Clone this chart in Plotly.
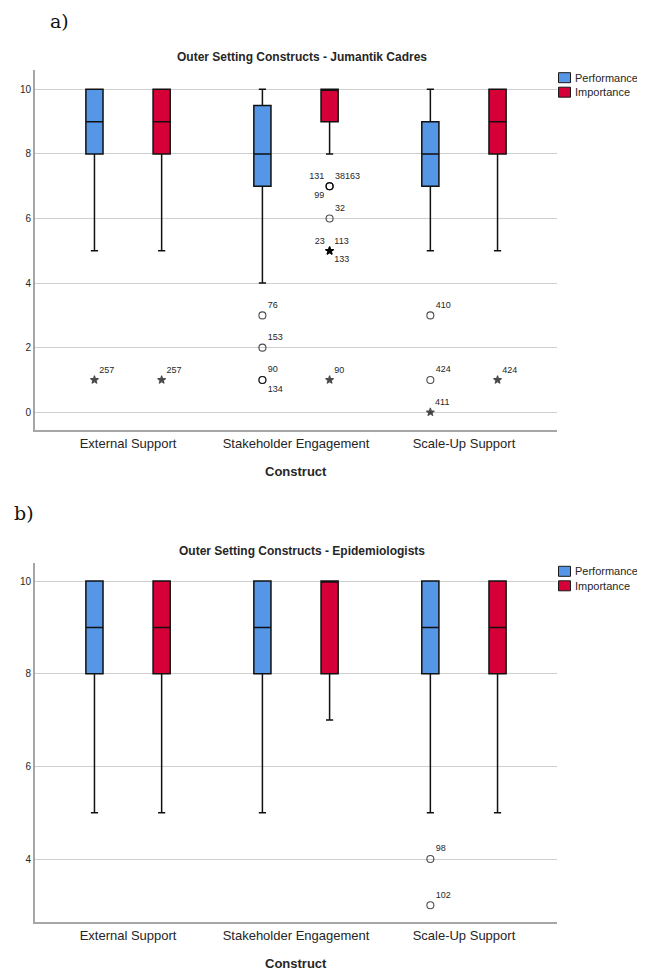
import plotly.graph_objects as go

# ---------------- data ----------------
categories = ["External Support", "Stakeholder Engagement", "Scale-Up Support"]
y_ticks_a = [0, 2, 4, 6, 8, 10]
y_ticks_b = [4, 6, 8, 10]

# a) Jumantik Cadres
a_perf_lo = [5, 4, 5]
a_perf_q1 = [8, 7, 7]
a_perf_med = [9, 8, 8]
a_perf_q3 = [10, 9.5, 9]
a_perf_hi = [10, 10, 10]

a_imp_lo = [5, 8, 5]
a_imp_q1 = [8, 9, 8]
a_imp_med = [9, 10, 9]
a_imp_q3 = [10, 10, 10]
a_imp_hi = [10, 10, 10]

# outliers: (category index, value, kind, label, label position)
a_perf_out = [
    (0, 1, "extreme", "257", "top right"),
    (1, 3, "outlier", "76", "top right"),
    (1, 2, "outlier", "153", "top right"),
    (1, 1, "outlier", "90", "top right"),
    (1, 1, "outlier", "134", "bottom right"),
    (2, 3, "outlier", "410", "top right"),
    (2, 1, "outlier", "424", "top right"),
    (2, 0, "extreme", "411", "top right"),
]
a_imp_out = [
    (0, 1, "extreme", "257", "top right"),
    (1, 7, "outlier", "131", "top left"),
    (1, 7, "outlier", "38163", "top right"),
    (1, 7, "outlier", "99", "bottom left"),
    (1, 6, "outlier", "32", "top right"),
    (1, 5, "extreme", "23", "top left"),
    (1, 5, "extreme", "113", "top right"),
    (1, 5, "extreme", "133", "bottom right"),
    (1, 1, "extreme", "90", "top right"),
    (2, 1, "extreme", "424", "top right"),
]

# b) Epidemiologists
b_perf_lo = [5, 5, 5]
b_perf_q1 = [8, 8, 8]
b_perf_med = [9, 9, 9]
b_perf_q3 = [10, 10, 10]
b_perf_hi = [10, 10, 10]

b_imp_lo = [5, 7, 5]
b_imp_q1 = [8, 8, 8]
b_imp_med = [9, 10, 9]
b_imp_q3 = [10, 10, 10]
b_imp_hi = [10, 10, 10]

b_perf_out = [
    (2, 4, "outlier", "98", "top right"),
    (2, 3, "outlier", "102", "top right"),
]
b_imp_out = []

# ---------------- style ----------------
PAGE_OFF = 8  # default body margin of the html page
W, H = 645 - PAGE_OFF, 972 - PAGE_OFF
BLUE = "#5596E6"
RED = "#D50037"
OFFSET = 0.2
BOXW = 0.102
FONT = "Liberation Sans, Arial, sans-serif"
TXT = "#262626"


def py(px):
    return 1 - (px - PAGE_OFF) / H


def px_x(px):
    return (px - PAGE_OFF) / W


fig = go.Figure()

panels = [
    dict(xa="x", ya="y", perf=(a_perf_lo, a_perf_q1, a_perf_med, a_perf_q3, a_perf_hi),
         imp=(a_imp_lo, a_imp_q1, a_imp_med, a_imp_q3, a_imp_hi),
         pout=a_perf_out, iout=a_imp_out),
    dict(xa="x2", ya="y2", perf=(b_perf_lo, b_perf_q1, b_perf_med, b_perf_q3, b_perf_hi),
         imp=(b_imp_lo, b_imp_q1, b_imp_med, b_imp_q3, b_imp_hi),
         pout=b_perf_out, iout=b_imp_out),
]

for p in panels:
    for stats, off, col, outs in ((p["perf"], -OFFSET, BLUE, p["pout"]), (p["imp"], OFFSET, RED, p["iout"])):
        lo, q1, med, q3, hi = stats
        xs = [i + off for i in range(len(categories))]
        fig.add_trace(go.Box(
            x=xs, lowerfence=lo, q1=q1, median=med, q3=q3, upperfence=hi,
            width=BOXW, whiskerwidth=0.42,
            fillcolor=col, line=dict(color="#111111", width=1.5),
            boxpoints=False, showlegend=False, hoverinfo="skip",
            xaxis=p["xa"], yaxis=p["ya"],
        ))
        if outs:
            fig.add_trace(go.Scatter(
                x=[o[0] + off for o in outs], y=[o[1] for o in outs],
                mode="markers+text",
                marker=dict(
                    symbol=["circle-open" if o[2] == "outlier" else "star" for o in outs],
                    size=[7 if o[2] == "outlier" else 6 for o in outs],
                    color="#000000", line=dict(color="#000000", width=1.1)),
                text=[o[3] for o in outs],
                textposition=[o[4] for o in outs],
                textfont=dict(family=FONT, size=9, color=TXT),
                showlegend=False, hoverinfo="skip", cliponaxis=False,
                xaxis=p["xa"], yaxis=p["ya"],
            ))

x_dom = [px_x(35), px_x(557)]
xcommon = dict(
    domain=x_dom, range=[-0.554, 2.554], tickmode="array",
    tickvals=list(range(len(categories))), ticktext=categories,
    showgrid=False, zeroline=False, showline=True, linecolor="#a6a6a6", linewidth=2,
    ticks="", tickfont=dict(family=FONT, size=13, color=TXT), fixedrange=True,
    automargin=False,
)
ycommon = dict(
    showgrid=True, gridcolor="#cfcfcf", gridwidth=1, zeroline=False,
    showline=True, linecolor="#a6a6a6", linewidth=2, ticks="",
    tickfont=dict(family=FONT, size=10, color=TXT), fixedrange=True,
    automargin=False,
)

fig.update_layout(
    width=W, height=H, margin=dict(l=0, r=0, t=0, b=0, autoexpand=False),
    paper_bgcolor="white", plot_bgcolor="white",
    xaxis=dict(**xcommon, anchor="y"),
    yaxis=dict(**ycommon, domain=[py(430), py(70)], range=[-0.55, 10.6],
               tickvals=y_ticks_a, anchor="x"),
    xaxis2=dict(**xcommon, anchor="y2"),
    yaxis2=dict(**ycommon, domain=[py(922), py(563)], range=[2.64, 10.39],
                tickvals=y_ticks_b, anchor="x2"),
)

ann = []
shapes = []
# panel letters
ann.append(dict(text="a)", x=px_x(48), y=py(21), xref="paper", yref="paper",
                xanchor="left", yanchor="middle", showarrow=False,
                font=dict(family="DejaVu Serif, serif", size=19, color="#111")))
ann.append(dict(text="b)", x=px_x(12), y=py(513), xref="paper", yref="paper",
                xanchor="left", yanchor="middle", showarrow=False,
                font=dict(family="DejaVu Serif, serif", size=19, color="#111")))
# titles
for t, yy in (("Outer Setting Constructs - Jumantik Cadres", 57),
              ("Outer Setting Constructs - Epidemiologists", 551)):
    ann.append(dict(text="<b>" + t + "</b>", x=px_x(302), y=py(yy), xref="paper", yref="paper",
                    xanchor="center", yanchor="middle", showarrow=False,
                    font=dict(family=FONT, size=12, color=TXT)))
# axis titles
for yy in (471, 963):
    ann.append(dict(text="<b>Construct</b>", x=px_x(296), y=py(yy), xref="paper", yref="paper",
                    xanchor="center", yanchor="middle", showarrow=False,
                    font=dict(family=FONT, size=13, color=TXT)))
# legends
for top in (77.7, 571.3):
    for k, (name, col) in enumerate((("Performance", BLUE), ("Importance", RED))):
        cy = top + k * 14.5
        shapes.append(dict(type="rect", xref="paper", yref="paper",
                           x0=px_x(558.5), x1=px_x(570.5), y0=py(cy + 5), y1=py(cy - 5),
                           fillcolor=col, line=dict(color="#1a1a1a", width=1)))
        ann.append(dict(text=name, x=px_x(572.5), y=py(cy), xref="paper", yref="paper",
                        xanchor="left", yanchor="middle", showarrow=False,
                        font=dict(family=FONT, size=11, color=TXT)))

fig.update_layout(annotations=ann, shapes=shapes)
fig.write_html("out.html")
